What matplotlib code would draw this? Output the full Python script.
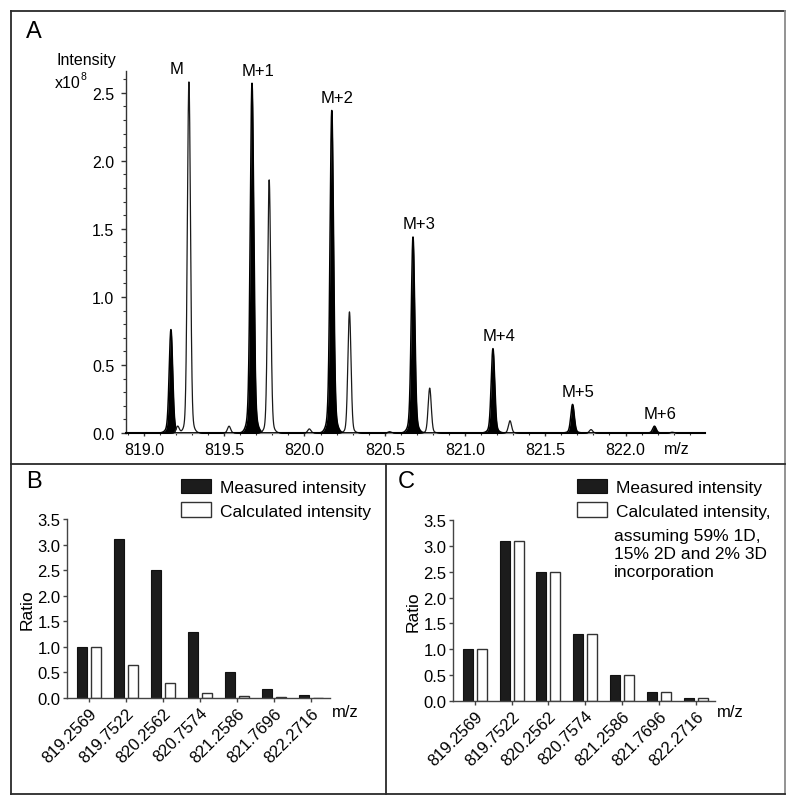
import numpy as np
import matplotlib
matplotlib.use("Agg")
import matplotlib.pyplot as plt
from matplotlib.lines import Line2D
from matplotlib.ticker import MultipleLocator, FormatStrFormatter
import matplotlib.transforms as mtransforms

plt.rcParams['font.family'] = ['Liberation Sans', 'DejaVu Sans']

# ---------------- Panel A data (spectrum peaks) ----------------
meas_mz = [819.168, 819.673, 820.170, 820.676, 821.174, 821.670, 822.180]
meas_int = [0.76, 2.57, 2.37, 1.44, 0.62, 0.21, 0.05]
peak_labels = ['M', 'M+1', 'M+2', 'M+3', 'M+4', 'M+5', 'M+6']
calc_mz = [819.21, 819.28, 819.53, 819.78, 820.03, 820.28, 820.53, 820.78,
           821.28, 821.785, 822.29]
calc_int = [0.05, 2.58, 0.05, 1.86, 0.03, 0.89, 0.01, 0.33, 0.09, 0.025, 0.006]

# ---------------- Panels B and C data ----------------
mz_labels = ['819.2569', '819.7522', '820.2562', '820.7574',
             '821.2586', '821.7696', '822.2716']
ratio_measured = [1.0, 3.1, 2.5, 1.3, 0.5, 0.17, 0.05]
ratio_calc_B = [1.0, 0.65, 0.30, 0.10, 0.03, 0.01, 0.003]
ratio_calc_C = [1.0, 3.1, 2.5, 1.3, 0.5, 0.17, 0.05]

W, H = 800, 803
fig = plt.figure(figsize=(W / 100, H / 100), dpi=100)


def fx(px):
    return px / W


def fy(py):
    return 1 - py / H


def profile(x, centers, heights, sigma, skirt_sigma, skirt_frac):
    y = np.zeros_like(x)
    for c, h in zip(centers, heights):
        y += h * ((1 - skirt_frac) * np.exp(-0.5 * ((x - c) / sigma) ** 2)
                  + skirt_frac * np.exp(-0.5 * ((x - c) / skirt_sigma) ** 2))
    return y


# ---------------- frame lines ----------------
frame_col = '#2a2a2a'
for (x0, y0, x1, y1, col) in [
        (11, 12, 785, 12, frame_col), (11, 12, 11, 795, frame_col),
        (785, 12, 785, 795, '#8a8a8a'), (11, 795, 785, 795, frame_col),
        (11, 465, 785, 465, frame_col), (386, 465, 386, 795, frame_col)]:
    fig.add_artist(Line2D([fx(x0), fx(x1)], [fy(y0), fy(y1)],
                          transform=fig.transFigure, color=col, lw=1.3))

# ---------------- Panel A ----------------
axA = fig.add_axes([fx(126), fy(434), fx(705) - fx(126), fy(72) - fy(434)])
xmin, xmax = 818.888, 822.495
x = np.linspace(xmin, xmax, 8000)
y_meas = profile(x, meas_mz, meas_int, 0.0105, 0.024, 0.08)
y_calc = profile(x, calc_mz, calc_int, 0.0095, 0.022, 0.05)

axA.fill_between(x, 0, y_meas, color='#000000', lw=0, zorder=2)
axA.plot(x, y_meas, color='#000000', lw=1.1, zorder=2)
axA.fill_between(x, 0, y_calc, color='white', lw=0, zorder=3)
axA.plot(x, y_calc, color='#1a1a1a', lw=0.9, zorder=4)
axA.axhline(0, color='black', lw=2.0, zorder=5)

axA.set_xlim(xmin, xmax)
axA.set_ylim(0, 2.66)
for s in ['top', 'right']:
    axA.spines[s].set_visible(False)
axA.spines['left'].set_linewidth(1.0)
axA.spines['left'].set_color('#333333')
axA.spines['bottom'].set_linewidth(1.5)
axA.set_yticks([0.0, 0.5, 1.0, 1.5, 2.0, 2.5])
axA.yaxis.set_major_formatter(FormatStrFormatter('%.1f'))
axA.yaxis.set_minor_locator(MultipleLocator(0.1))
axA.set_xticks([819.0, 819.5, 820.0, 820.5, 821.0, 821.5, 822.0])
axA.xaxis.set_major_formatter(FormatStrFormatter('%.1f'))
axA.xaxis.set_minor_locator(MultipleLocator(0.1))
axA.tick_params(axis='y', which='major', length=3.5, width=1, pad=5, labelsize=11.5,
                color='#333333')
axA.tick_params(axis='y', which='minor', length=2, width=0.8, color='#333333')
axA.tick_params(axis='x', which='major', length=2.5, width=1, pad=4, labelsize=11.5,
                color='#333333')
axA.tick_params(axis='x', which='minor', length=1.5, width=0.8, color='#333333')

for mz, lab in zip(meas_mz, peak_labels):
    win = (x > mz - 0.05) & (x < mz + 0.13)
    top = max(y_meas[win].max(), y_calc[win].max())
    axA.annotate(lab, xy=(mz + 0.035, top), xytext=(0, 4),
                 textcoords='offset points', ha='center', va='bottom', fontsize=12)

fig.text(fx(677), fy(450), 'm/z', ha='center', va='center', fontsize=11.5)
fig.text(fx(34), fy(32), 'A', ha='center', va='center', fontsize=17)
fig.text(fx(86), fy(61), 'Intensity', ha='center', va='center', fontsize=11.5)
fig.text(fx(55), fy(83), 'x10', ha='left', va='center', fontsize=11.5)
fig.text(fx(80.5), fy(77), '8', ha='left', va='center', fontsize=7.5)


# ---------------- Panels B and C ----------------
def bar_panel(rect, calc_vals, letter_pos, letter, leg_anchor, calc_label, extra_text=None,
              extra_pos=None):
    ax = fig.add_axes(rect)
    idx = np.arange(len(mz_labels))
    bw = 0.27
    off = 0.19
    b1 = ax.bar(idx - off, ratio_measured, bw, color='#1c1c1c', edgecolor='#111111',
                lw=0.8, label='Measured intensity')
    b2 = ax.bar(idx + off, calc_vals, bw, color='white', edgecolor='#333333',
                lw=1.0, label=calc_label)
    ax.set_xlim(-0.59, 6.52)
    ax.set_ylim(0, 3.5)
    for s in ['top', 'right']:
        ax.spines[s].set_visible(False)
    for s in ['left', 'bottom']:
        ax.spines[s].set_color('#444444')
        ax.spines[s].set_linewidth(1.0)
    ax.set_yticks(np.arange(0, 3.51, 0.5))
    ax.yaxis.set_major_formatter(FormatStrFormatter('%.1f'))
    ax.set_xticks(idx)
    ax.set_xticklabels(mz_labels, rotation=45, ha='right', va='top',
                       rotation_mode='anchor')
    offset = mtransforms.ScaledTranslation(0.15, -0.04, fig.dpi_scale_trans)
    for lbl in ax.get_xticklabels():
        lbl.set_transform(lbl.get_transform() + offset)
    ax.tick_params(axis='y', length=3, width=1, pad=1.5, labelsize=12, color='#444444')
    ax.tick_params(axis='x', length=3, width=1, pad=2, labelsize=12, color='#444444')
    ax.set_ylabel('Ratio', fontsize=12.5, labelpad=2)
    ax.legend(handles=[b1, b2], labels=['Measured intensity', calc_label],
              loc='upper left', bbox_to_anchor=leg_anchor,
              bbox_transform=fig.transFigure, frameon=False, fontsize=12.5,
              handlelength=1.75, handleheight=0.9, handletextpad=0.5,
              labelspacing=0.42, borderpad=0, borderaxespad=0)
    fig.text(letter_pos[0], letter_pos[1], letter, ha='center', va='center', fontsize=17)
    if extra_text is not None:
        fig.text(extra_pos[0], extra_pos[1], extra_text, ha='left', va='center',
                 fontsize=12.5, linespacing=1.25)
    return ax


axB = bar_panel([fx(67), fy(699), fx(330) - fx(67), fy(520) - fy(699)],
                ratio_calc_B, (fx(34), fy(482)), 'B', (fx(181), fy(480)),
                'Calculated intensity')
fig.text(fx(345), fy(713), 'm/z', ha='center', va='center', fontsize=12)

axC = bar_panel([fx(453), fy(702), fx(715) - fx(453), fy(521) - fy(702)],
                ratio_calc_C, (fx(406), fy(482)), 'C', (fx(577), fy(480)),
                'Calculated intensity,',
                extra_text='assuming 59% 1D,\n15% 2D and 2% 3D\nincorporation',
                extra_pos=(fx(614), fy(555)))
fig.text(fx(730), fy(713), 'm/z', ha='center', va='center', fontsize=12)

fig.savefig('out.png', dpi=100)
